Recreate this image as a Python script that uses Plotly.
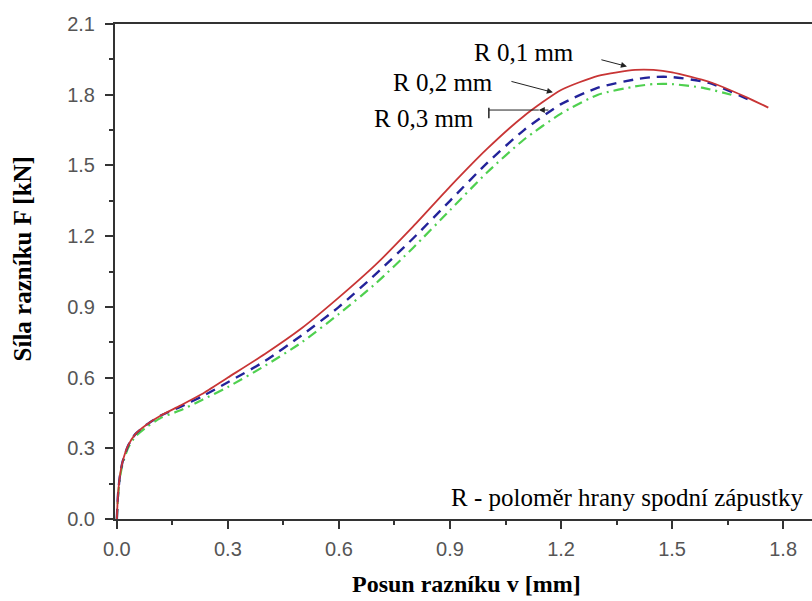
import plotly.graph_objects as go

# ---- data ----
v_r01 = [0, 0.003, 0.008, 0.015, 0.03, 0.05, 0.08, 0.12, 0.17, 0.23, 0.3, 0.4, 0.5, 0.6, 0.7, 0.8, 0.9, 1.0, 1.1, 1.2, 1.3, 1.4, 1.45, 1.5, 1.6, 1.7, 1.76]
F_r01 = [0, 0.10, 0.18, 0.24, 0.31, 0.36, 0.40, 0.44, 0.48, 0.53, 0.60, 0.70, 0.81, 0.94, 1.08, 1.24, 1.41, 1.57, 1.71, 1.82, 1.88, 1.905, 1.905, 1.895, 1.855, 1.79, 1.745]

v_r02 = [0, 0.003, 0.008, 0.015, 0.03, 0.05, 0.08, 0.12, 0.17, 0.23, 0.3, 0.4, 0.5, 0.6, 0.7, 0.8, 0.9, 1.0, 1.1, 1.2, 1.3, 1.4, 1.45, 1.5, 1.6, 1.72]
F_r02 = [0, 0.10, 0.18, 0.24, 0.31, 0.36, 0.40, 0.44, 0.475, 0.52, 0.58, 0.67, 0.78, 0.90, 1.04, 1.19, 1.35, 1.51, 1.65, 1.76, 1.83, 1.865, 1.875, 1.875, 1.85, 1.77]

v_r03 = [0, 0.003, 0.008, 0.015, 0.03, 0.05, 0.08, 0.12, 0.17, 0.23, 0.3, 0.4, 0.5, 0.6, 0.7, 0.8, 0.9, 1.0, 1.1, 1.2, 1.3, 1.4, 1.45, 1.5, 1.58, 1.66]
F_r03 = [0, 0.09, 0.17, 0.23, 0.30, 0.35, 0.39, 0.43, 0.46, 0.505, 0.56, 0.65, 0.75, 0.87, 1.00, 1.15, 1.31, 1.47, 1.61, 1.72, 1.80, 1.835, 1.845, 1.845, 1.83, 1.80]

series_names = ["R 0,1 mm", "R 0,2 mm", "R 0,3 mm"]
x_ticks = [0.0, 0.3, 0.6, 0.9, 1.2, 1.5, 1.8]
y_ticks = [0.0, 0.3, 0.6, 0.9, 1.2, 1.5, 1.8, 2.1]

serif = "Liberation Serif, Times New Roman, serif"
sans = "Liberation Sans, Arial, sans-serif"

fig = go.Figure()
fig.add_trace(go.Scatter(x=v_r03, y=F_r03, mode="lines", name=series_names[2],
                         line=dict(color="#4fd04f", width=2.2, dash="10px,5px,2px,5px",
                                   shape="spline", smoothing=0.6)))
fig.add_trace(go.Scatter(x=v_r02, y=F_r02, mode="lines", name=series_names[1],
                         line=dict(color="#23239a", width=2.4, dash="10px,7px",
                                   shape="spline", smoothing=0.6)))
fig.add_trace(go.Scatter(x=v_r01, y=F_r01, mode="lines", name=series_names[0],
                         line=dict(color="#c83535", width=1.8, shape="spline", smoothing=0.6)))

axis_common = dict(
    showline=True, linecolor="#333", linewidth=2,
    ticks="outside", ticklen=8, tickwidth=1.5, tickcolor="#333",
    showgrid=False, zeroline=False,
    tickfont=dict(family=sans, size=20, color="#555"),
    tickformat=".1f",
)

fig.update_xaxes(range=[-0.005, 1.878], tickvals=x_ticks, mirror=True, ticklabelstandoff=3,
                 minor=dict(ticks="outside", ticklen=4, dtick=0.15, tick0=0, tickcolor="#333", tickwidth=1.5),
                 **axis_common)
fig.update_yaxes(range=[0, 2.1], tickvals=y_ticks, ticklabelstandoff=6,
                 minor=dict(ticks="outside", ticklen=4, dtick=0.15, tick0=0, tickcolor="#333", tickwidth=1.5),
                 **axis_common)

ann = []
# axis titles
ann.append(dict(text="<b>Posun razníku v [mm]</b>", xref="paper", yref="paper", x=0.505, y=-0.131,
                xanchor="center", yanchor="middle",
                showarrow=False, font=dict(family=serif, size=24, color="black")))
ann.append(dict(text="<b>Síla razníku F [kN]</b>", xref="paper", yref="paper", x=-0.133, y=0.525,
                xanchor="center", yanchor="middle",
                textangle=-90, showarrow=False, font=dict(family=serif, size=25, color="black")))
# series labels
lab_font = dict(family=serif, size=25, color="black")
ann.append(dict(text=series_names[0], x=1.10, y=1.98, showarrow=False, font=lab_font))
ann.append(dict(text=series_names[1], x=0.881, y=1.85, showarrow=False, font=lab_font))
ann.append(dict(text=series_names[2], x=0.83, y=1.70, showarrow=False, font=lab_font))
# arrows
ann.append(dict(text="", x=1.378, y=1.92, ax=1.305, ay=1.95, axref="x", ayref="y",
                showarrow=True, arrowhead=2, arrowsize=1.2, arrowwidth=1, arrowcolor="#222"))
ann.append(dict(text="", x=1.178, y=1.81, ax=1.062, ay=1.858, axref="x", ayref="y",
                showarrow=True, arrowhead=2, arrowsize=1.2, arrowwidth=1, arrowcolor="#222"))
ann.append(dict(text="", x=1.14, y=1.735, ax=1.17, ay=1.735, axref="x", ayref="y",
                showarrow=True, arrowhead=2, arrowsize=1.2, arrowwidth=1, arrowcolor="#222"))
# note
ann.append(dict(text="R - poloměr hrany spodní zápustky", xref="paper", x=0.991, xanchor="right",
                y=0.093, yref="y", yanchor="middle", showarrow=False, font=lab_font))

fig.update_layout(
    width=812, height=601,
    margin=dict(l=115, r=0, t=24, b=82),
    paper_bgcolor="white", plot_bgcolor="white",
    showlegend=False,
    annotations=ann,
    shapes=[dict(type="line", xref="x", yref="y", x0=1.005, x1=1.14, y0=1.735, y1=1.735,
                 line=dict(color="#222", width=1)),
            dict(type="line", xref="x", yref="y", x0=1.005, x1=1.005, y0=1.70, y1=1.745,
                 line=dict(color="#222", width=1.5))],
)

fig.write_html("out.html")
